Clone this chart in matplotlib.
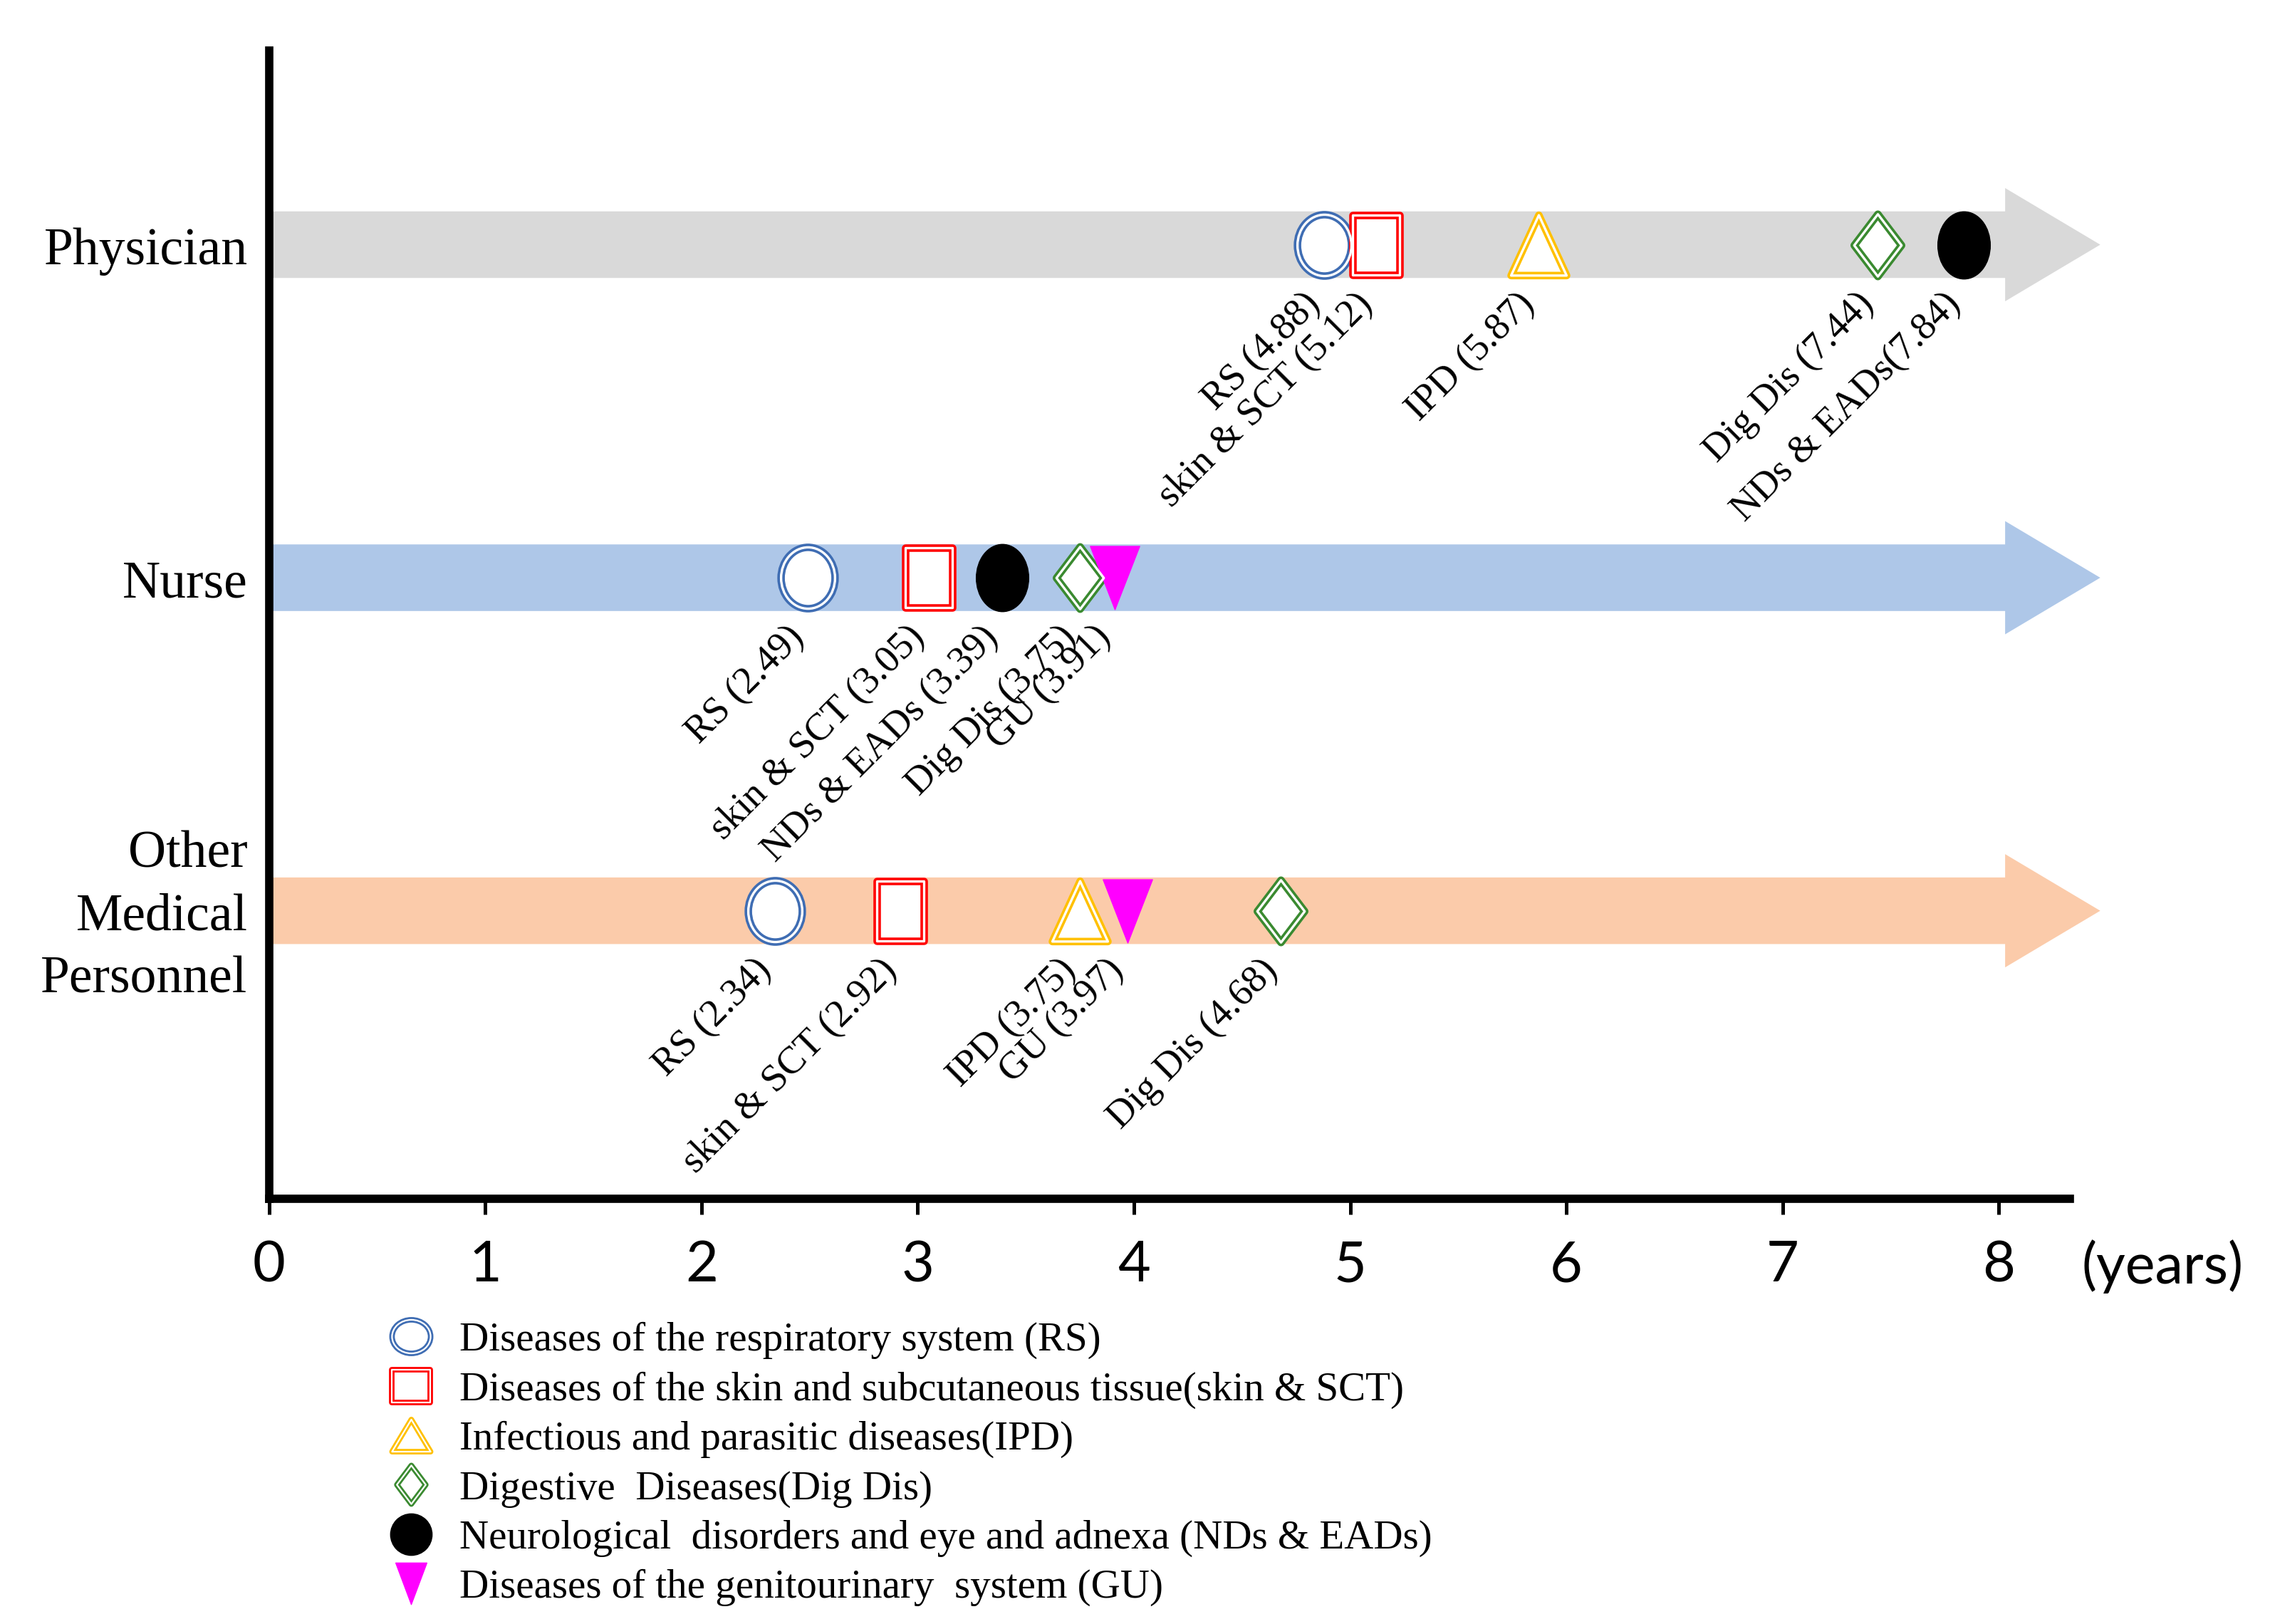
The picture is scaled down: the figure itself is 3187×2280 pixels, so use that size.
import matplotlib
matplotlib.use('Agg')
import matplotlib.pyplot as plt
from matplotlib.path import Path
from matplotlib.markers import MarkerStyle
from matplotlib.patches import FancyArrow
from matplotlib.lines import Line2D
from matplotlib.legend_handler import HandlerTuple

# Data: mean years until each disease group shows up
groups = ['Physician', 'Nurse', 'Other\nMedical\nPersonnel']
codes = ['RS', 'skin & SCT', 'IPD', 'Dig Dis', 'NDs & EADs', 'GU']
physician_years = [4.88, 5.12, 5.87, 7.44, 7.84, None]
nurse_years = [2.49, 3.05, None, 3.75, 3.39, 3.91]
other_years = [2.34, 2.92, 3.75, 4.68, None, 3.97]
legend_labels = [
    'Diseases of the respiratory system (RS)',
    'Diseases of the skin and subcutaneous tissue(skin & SCT)',
    'Infectious and parasitic diseases(IPD)',
    'Digestive  Diseases(Dig Dis)',
    'Neurological  disorders and eye and adnexa (NDs & EADs)',
    'Diseases of the genitourinary  system (GU)',
]
xticks = [0, 1, 2, 3, 4, 5, 6, 7, 8]

band_colors = ['#d9d9d9', '#aec7e8', '#fbcbaa']
row_y = [3, 2, 1]
serif = 'Liberation Serif'
sans = 'Lato'


# marker shapes, a bit taller than wide like in the figure
def shape(kind, aspect):
    if kind == 'ellipse':
        c = Path.unit_circle()
        return Path(c.vertices * [aspect, 1], c.codes)
    if kind == 'rect':
        verts = [(-aspect, -1), (aspect, -1), (aspect, 1), (-aspect, 1), (-aspect, -1)]
    elif kind == 'tri_up':
        verts = [(0, 1), (-aspect, -1), (aspect, -1), (0, 1)]
    elif kind == 'tri_down':
        verts = [(-aspect, 1), (aspect, 1), (0, -1), (-aspect, 1)]
    else:  # diamond
        verts = [(0, 1), (aspect, 0), (0, -1), (-aspect, 0), (0, 1)]
    return Path(verts, closed=True)


# code -> (shape, aspect on chart, aspect in legend, colour, double outline, size)
styles = {
    'RS': ('ellipse', 0.88, 1.15, '#3f6db3', True, 31),
    'skin & SCT': ('rect', 0.8, 1.2, '#ff0000', True, 30),
    'IPD': ('tri_up', 0.92, 1.2, '#ffc000', True, 30.5),
    'Dig Dis': ('diamond', 0.76, 0.75, '#3a8a30', True, 31.5),
    'NDs & EADs': ('ellipse', 0.78, 1.0, '#000000', False, 32),
    'GU': ('tri_down', 0.78, 0.75, '#ff00ff', False, 30),
}

fig = plt.figure(figsize=(15.935, 11.4), dpi=200)
ax = fig.add_axes([0.1186, 0.2618, 0.819, 0.7071])
ax.set_xlim(0, 8.6)
ax.set_ylim(0.135, 3.583)

for y, years, color, group in zip(row_y, [physician_years, nurse_years, other_years],
                                  band_colors, groups):
    ax.add_patch(FancyArrow(0, y, 8.47, 0, width=0.2, head_width=0.34,
                            head_length=0.44, length_includes_head=True,
                            color=color, lw=0, zorder=1))
    ax.text(-0.1, y - 0.02, group, ha='right', va='center', fontsize=26.5, family=serif,
            multialignment='right', linespacing=1.4, clip_on=False)
    for code, yr in zip(codes, years):
        if yr is None:
            continue
        kind, asp, _, c, double, ms = styles[code]
        mk = MarkerStyle(shape(kind, asp), joinstyle='miter')
        if double:
            ax.plot(yr, y, marker=mk, ms=ms, mfc='white', mec=c, mew=3.8,
                    ls='none', zorder=3)
            ax.plot(yr, y, marker=mk, ms=ms, mfc='none', mec='white', mew=1.2,
                    ls='none', zorder=4)
        else:
            ax.plot(yr, y, marker=mk, ms=ms + 2, mfc=c, mec=c, mew=0.5,
                    ls='none', zorder=3)
        sep = '' if (group == 'Physician' and code == 'NDs & EADs') else ' '
        ax.annotate(f'{code}{sep}({yr:.2f})', (yr, y), xytext=(-11, -21),
                    textcoords='offset points', rotation=45, rotation_mode='anchor',
                    ha='right', va='top', fontsize=19.5, family=serif)

# axes styling
for side in ['top', 'right']:
    ax.spines[side].set_visible(False)
ax.spines['left'].set_linewidth(4.2)
ax.spines['bottom'].set_linewidth(4.2)
ax.spines['bottom'].set_bounds(0, 8.33)
ax.spines['left'].set_zorder(5)
ax.set_yticks([])
ax.set_xticks(xticks)
ax.set_xticklabels([str(t) for t in xticks], fontfamily=sans, fontsize=28.5)
ax.tick_params(axis='x', length=8, width=1.8, pad=13)
fig.text(0.917, 0.2200, '(years)', fontsize=28.5, family=sans, ha='left', va='center')

# legend with the same double outlined markers
handles = []
for code in codes:
    kind, _, lasp, c, double, _ = styles[code]
    mk = MarkerStyle(shape(kind, lasp), joinstyle='miter')
    if double:
        h1 = Line2D([], [], marker=mk, ms=19.5, mfc='white', mec=c, mew=2.8, ls='none')
        h2 = Line2D([], [], marker=mk, ms=19.5, mfc='none', mec='white', mew=0.8, ls='none')
        handles.append((h1, h2))
    else:
        handles.append(Line2D([], [], marker=mk, ms=21, mfc=c, mec=c, mew=0.5, ls='none'))

fig.legend(handles, legend_labels, loc='upper left', bbox_to_anchor=(0.172, 0.186),
           frameon=False, prop={'family': serif, 'size': 20.5}, handlelength=1.0,
           handletextpad=0.7, labelspacing=0.3, borderpad=0, borderaxespad=0,
           handler_map={tuple: HandlerTuple(ndivide=1)})

fig.savefig('out.png', dpi=200)
